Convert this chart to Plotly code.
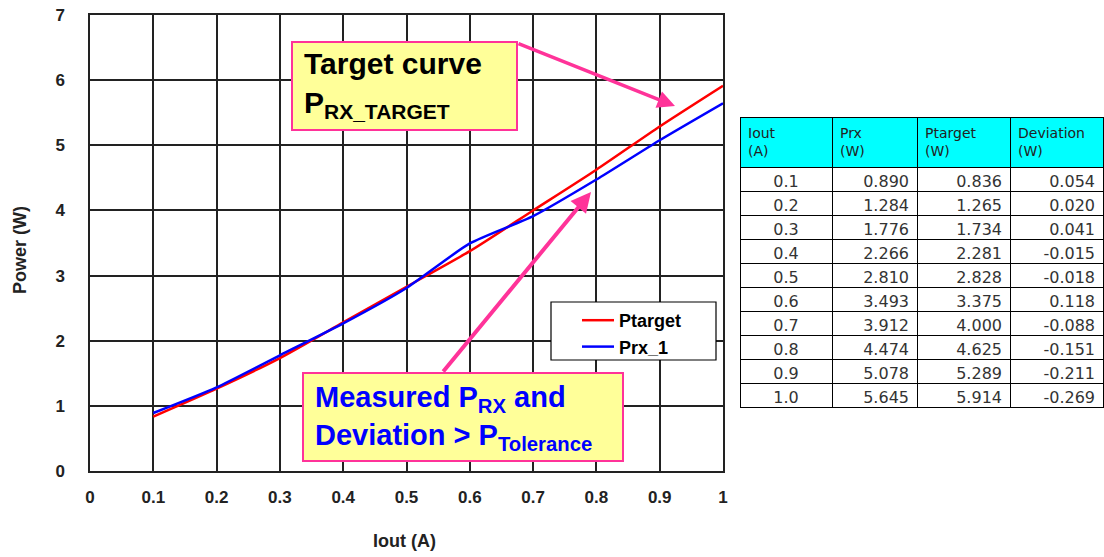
import plotly.graph_objects as go

W, H = 1104, 557

iout = [0.1, 0.2, 0.3, 0.4, 0.5, 0.6, 0.7, 0.8, 0.9, 1.0]
prx = [0.890, 1.284, 1.776, 2.266, 2.810, 3.493, 3.912, 4.474, 5.078, 5.645]
ptarget = [0.836, 1.265, 1.734, 2.281, 2.828, 3.375, 4.000, 4.625, 5.289, 5.914]
deviation = [0.054, 0.020, 0.041, -0.015, -0.018, 0.118, -0.088, -0.151, -0.211, -0.269]

header_labels = ["Iout<br>(A)", "Prx<br>(W)", "Ptarget<br>(W)", "Deviation<br>(W)"]
x_ticks = [0, 0.1, 0.2, 0.3, 0.4, 0.5, 0.6, 0.7, 0.8, 0.9, 1]
x_tick_text = ["0", "0.1", "0.2", "0.3", "0.4", "0.5", "0.6", "0.7", "0.8", "0.9", "1"]
y_ticks = [0, 1, 2, 3, 4, 5, 6, 7]


def px(x):
    return x / W


def py(y):
    return 1 - y / H


PINK = "#FF3399"
YELLOW = "#FFFF99"
FONT = "Liberation Sans, Arial, sans-serif"
TFONT = "DejaVu Sans, Verdana, sans-serif"

fig = go.Figure()
fig.add_trace(go.Scatter(x=iout, y=ptarget, mode="lines", name="Ptarget",
                         line=dict(color="#FF0000", width=2.5, shape="spline", smoothing=0.6)))
fig.add_trace(go.Scatter(x=iout, y=prx, mode="lines", name="Prx_1",
                         line=dict(color="#0000FF", width=2.5, shape="spline", smoothing=0.6)))

fig.add_trace(go.Table(
    domain=dict(x=[px(740), px(1103)], y=[py(430), py(117)]),
    columnwidth=[92, 85, 93, 93],
    header=dict(values=header_labels, fill_color="#00FFFF", align="left",
                line=dict(color="black", width=1), height=44,
                font=dict(family=TFONT, size=14, color="#222222")),
    cells=dict(values=[[f"{v:.1f}" for v in iout], [f"{v:.3f}" for v in prx],
                       [f"{v:.3f}" for v in ptarget], [f"{v:.3f}" for v in deviation]],
               fill_color="white", align=["center", "right", "right", "right"],
               line=dict(color="black", width=1), height=24,
               font=dict(family=TFONT, size=16, color="#333333")),
))

shapes = [
    dict(type="rect", xref="paper", yref="paper", x0=px(292), x1=px(517), y0=py(130), y1=py(42),
         fillcolor=YELLOW, line=dict(color=PINK, width=2), layer="above"),
    dict(type="rect", xref="paper", yref="paper", x0=px(303), x1=px(623), y0=py(461), y1=py(373),
         fillcolor=YELLOW, line=dict(color=PINK, width=2), layer="above"),
    dict(type="rect", xref="paper", yref="paper", x0=px(551), x1=px(716), y0=py(360), y1=py(302),
         fillcolor="white", line=dict(color="black", width=1.2), layer="above"),
]

annotations = [
    dict(xref="paper", yref="paper", x=px(302), y=py(85), xanchor="left", yanchor="middle",
         align="left", showarrow=False,
         text="<b>Target curve<br>P<sub>RX_TARGET</sub></b>",
         font=dict(family=FONT, size=30, color="black")),
    dict(xref="paper", yref="paper", x=px(313), y=py(418), xanchor="left", yanchor="middle",
         align="left", showarrow=False,
         text="<b>Measured P<sub>RX</sub> and<br>Deviation &gt; P<sub>Tolerance</sub></b>",
         font=dict(family=FONT, size=29, color="#0000FF")),
    dict(xref="paper", yref="paper", x=px(675), y=py(106), axref="pixel", ayref="pixel",
         ax=517 - 675, ay=43 - 106, text="", showarrow=True, arrowhead=2, arrowsize=1,
         arrowwidth=3.5, arrowcolor=PINK),
    dict(xref="paper", yref="paper", x=px(591), y=py(192), axref="pixel", ayref="pixel",
         ax=442 - 591, ay=373 - 192, text="", showarrow=True, arrowhead=2, arrowsize=1,
         arrowwidth=4, arrowcolor=PINK),
    dict(xref="paper", yref="paper", x=px(404), y=py(541), xanchor="center", yanchor="middle",
         showarrow=False, text="<b>Iout (A)</b>", font=dict(family=FONT, size=18, color="#222222")),
    dict(xref="paper", yref="paper", x=px(20), y=py(250), xanchor="center", yanchor="middle",
         showarrow=False, textangle=-90, text="<b>Power (W)</b>",
         font=dict(family=FONT, size=18, color="#222222")),
]

tickfont = dict(family=FONT, size=17, color="#222222", weight="bold")

fig.update_layout(
    width=W, height=H,
    margin=dict(l=0, r=0, t=0, b=0),
    paper_bgcolor="white", plot_bgcolor="white",
    shapes=shapes, annotations=annotations,
    showlegend=True,
    legend=dict(x=px(577), y=py(302), xanchor="left", yanchor="top",
                borderwidth=0, bgcolor="rgba(0,0,0,0)",
                font=dict(family=FONT, size=18, color="black", weight="bold"),
                itemwidth=32, tracegroupgap=0),
    xaxis=dict(domain=[px(90), px(723)], range=[0, 1], tickvals=x_ticks, ticktext=x_tick_text,
               showgrid=True, gridcolor="#222222", gridwidth=1.5, zeroline=False,
               showline=True, linecolor="#222222", linewidth=1.5, mirror=True,
               ticks="", ticklabelstandoff=10, automargin=False, tickfont=tickfont),
    yaxis=dict(domain=[py(471), py(15)], range=[0, 7], tickvals=y_ticks,
               showgrid=True, gridcolor="#222222", gridwidth=1.5, zeroline=False,
               showline=True, linecolor="#222222", linewidth=1.5, mirror=True,
               ticks="", ticklabelstandoff=20, automargin=False, tickfont=tickfont),
)

fig.write_html("out.html", config={"displayModeBar": False},
               post_script="document.body.style.margin='0';")
